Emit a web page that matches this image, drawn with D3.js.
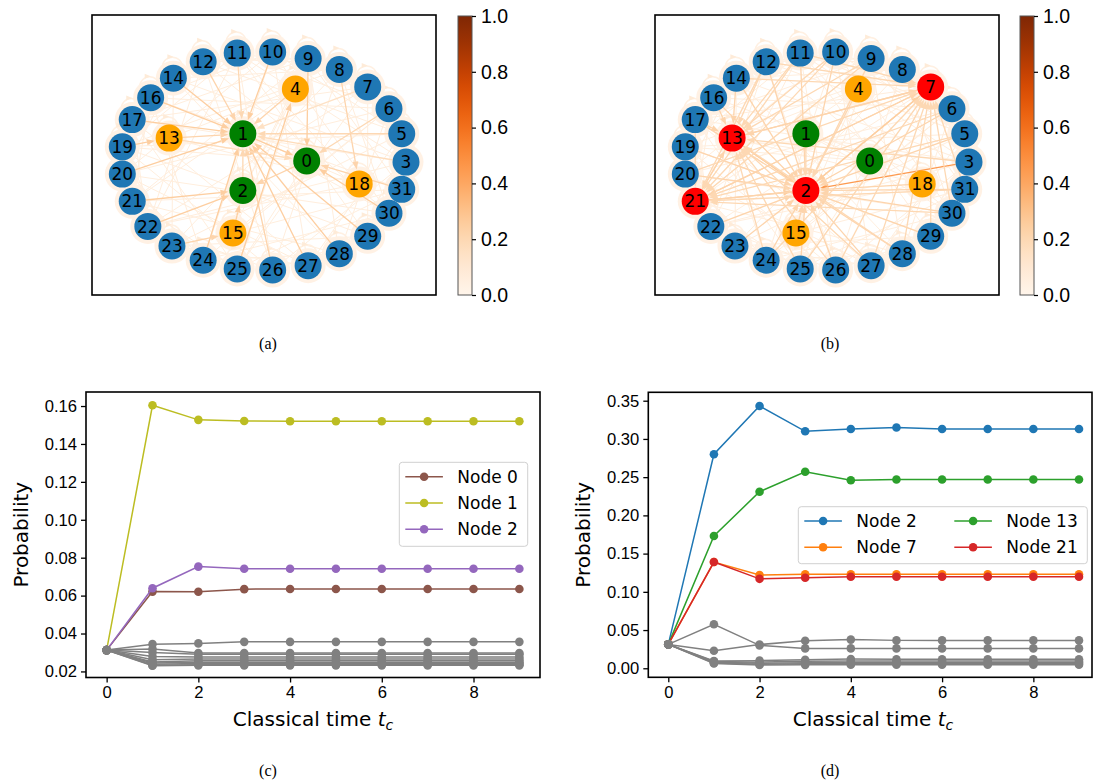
<!DOCTYPE html>
<meta charset="utf-8">
<style>
body { margin: 0; background: #fff; }
svg { font-family: "DejaVu Sans", sans-serif; }
.caption { font-family: "Liberation Serif", "DejaVu Serif", serif; font-size: 16px; }
.tick text { font-size: 16.6px; fill: #000; }
</style>
<svg id="fig" width="1094" height="780"></svg>
<script src="https://d3js.org/d3.v7.min.js"></script>
<script>

// ---- network layout (shared by panels a and b), node id = index
var nodeX = [0.30, -0.15, -0.15, 1.00, 0.22, 0.97, 0.88, 0.73, 0.53, 0.31, 0.06, -0.19, -0.43, -0.67, -0.64, -0.22,
             -0.80, -0.93, 0.67, -1.00, -1.00, -0.93, -0.82, -0.65, -0.43, -0.19, 0.06, 0.31, 0.53, 0.73, 0.88, 0.97];
var nodeY = [0.00, 0.25, -0.27, -0.01, 0.66, 0.25, 0.48, 0.68, 0.84, 0.94, 1.00, 0.99, 0.91, 0.21, 0.76, -0.66,
             0.58, 0.38, -0.21, 0.13, -0.12, -0.37, -0.60, -0.78, -0.91, -0.99, -1.00, -0.96, -0.85, -0.69, -0.48, -0.26];

var greenA = [0, 1, 2], orangeA = [4, 13, 15, 18], redA = [];
var greenB = [0, 1], orangeB = [4, 15, 18], redB = [2, 7, 13, 21];

// faint background edges (pairs)
var faintEdges = "11-8 11-6 11-3 11-29 11-26 11-22 11-19 11-14 10-7 10-5 10-30 10-27 10-24 10-20 10-16 9-6 9-31 9-28 " +
  "9-25 9-21 9-17 9-12 8-5 8-30 8-26 8-23 8-19 8-14 7-3 7-29 7-25 7-22 7-17 6-31 6-28 6-24 6-20 6-16 5-30 5-27 " +
  "5-23 5-19 5-12 3-29 3-26 3-22 3-17 3-14 31-28 31-25 31-21 31-16 30-27 30-24 30-20 30-12 29-26 29-23 29-19 " +
  "28-24 28-21 28-14 27-23 27-20 27-17 26-22 26-19 26-12 25-21 25-17 24-20 24-16 23-19 23-14 22-17 22-12 21-16 " +
  "20-14 4-13 4-15 4-21 18-13 18-22 15-6 0-13 0-19 1-18 2-4 0-25 1-30 2-9 15-31 18-11";

// directed edges with their weights (source>target:weight)
var edgesA = "10>1:.25 11>1:.2 12>1:.22 14>1:.25 16>1:.25 17>1:.25 13>1:.22 20>1:.25 24>1:.25 26>1:.22 27>1:.25 " +
  "28>1:.25 29>1:.25 5>1:.2 4>1:.22 3>1:.18 19>13:.25 23>15:.22 15>2:.25 21>2:.25 22>2:.25 25>4:.25 9>0:.25 " +
  "8>18:.22 6>0:.2 31>0:.22 30>0:.25 1>0:.25 0>2:.22 2>1:.2 13>0:.18 7>1:.15";
var edgesB = "3>2:.45 5>2:.22 6>2:.22 7>2:.25 9>2:.2 10>2:.22 11>2:.22 12>2:.22 14>2:.22 16>2:.22 17>2:.22 " +
  "19>2:.22 20>2:.22 21>2:.25 22>2:.22 23>2:.22 24>2:.22 25>2:.22 26>2:.22 27>2:.22 28>2:.22 29>2:.22 30>2:.22 " +
  "31>2:.22 18>2:.22 15>2:.22 13>2:.25 1>2:.2 4>2:.2 " +
  "2>13:.25 7>13:.22 9>13:.2 10>13:.2 11>13:.2 12>13:.2 14>13:.22 16>13:.22 17>13:.22 21>13:.22 24>13:.2 " +
  "25>13:.2 26>13:.2 27>13:.2 28>13:.2 3>13:.2 " +
  "2>7:.25 13>7:.22 21>7:.22 11>7:.2 12>7:.2 14>7:.2 24>7:.2 25>7:.2 26>7:.2 27>7:.2 28>7:.2 29>7:.2 30>7:.2 " +
  "31>7:.2 20>7:.2 " +
  "2>21:.22 13>21:.22 7>21:.22 5>21:.2 6>21:.2 10>21:.2 11>21:.2 12>21:.2 9>21:.2 30>21:.2 31>21:.2 17>21:.2";

var cbTicks = [0, 0.2, 0.4, 0.6, 0.8, 1.0];

// ---- probability curves
var steps = d3.range(10);
var seriesC = [
  {name: "Node 0", color: "#8c564b", values: [0.03125, 0.0621, 0.0620, 0.0634, 0.0635, 0.0635, 0.0635, 0.0635, 0.0635, 0.0635]},
  {name: "Node 1", color: "#bcbd22", values: [0.03125, 0.1604, 0.1527, 0.1521, 0.1520, 0.1520, 0.1520, 0.1520, 0.1520, 0.1520]},
  {name: "Node 2", color: "#9467bd", values: [0.03125, 0.0639, 0.0753, 0.0742, 0.0742, 0.0742, 0.0742, 0.0742, 0.0742, 0.0742]}
];
var grayC = [
  [0.03125, 0.0344, 0.0348, 0.0356, 0.0356, 0.0356, 0.0356, 0.0356, 0.0356, 0.0356],
  [0.03125, 0.0318, 0.0297, 0.0297, 0.0297, 0.0297, 0.0297, 0.0297, 0.0297, 0.0297],
  [0.03125, 0.0300, 0.0290, 0.0290, 0.0290, 0.0290, 0.0290, 0.0290, 0.0290, 0.0290],
  [0.03125, 0.0279, 0.0276, 0.0276, 0.0276, 0.0276, 0.0276, 0.0276, 0.0276, 0.0276],
  [0.03125, 0.0262, 0.0266, 0.0266, 0.0266, 0.0266, 0.0266, 0.0266, 0.0266, 0.0266],
  [0.03125, 0.0250, 0.0256, 0.0256, 0.0256, 0.0256, 0.0256, 0.0256, 0.0256, 0.0256],
  [0.03125, 0.0244, 0.0249, 0.0249, 0.0249, 0.0249, 0.0249, 0.0249, 0.0249, 0.0249],
  [0.03125, 0.0238, 0.0242, 0.0242, 0.0242, 0.0242, 0.0242, 0.0242, 0.0242, 0.0242],
  [0.03125, 0.0232, 0.0235, 0.0235, 0.0235, 0.0235, 0.0235, 0.0235, 0.0235, 0.0235],
  [0.03125, 0.0230, 0.0232, 0.0232, 0.0232, 0.0232, 0.0232, 0.0232, 0.0232, 0.0232]
];
var seriesD = [
  {name: "Node 2", color: "#1f77b4", values: [0.03125, 0.280, 0.343, 0.310, 0.313, 0.315, 0.313, 0.313, 0.313, 0.313]},
  {name: "Node 7", color: "#ff7f0e", values: [0.03125, 0.139, 0.122, 0.123, 0.123, 0.123, 0.123, 0.123, 0.123, 0.123]},
  {name: "Node 13", color: "#2ca02c", values: [0.03125, 0.173, 0.231, 0.257, 0.246, 0.247, 0.247, 0.247, 0.247, 0.247]},
  {name: "Node 21", color: "#d62728", values: [0.03125, 0.139, 0.117, 0.1185, 0.1198, 0.1198, 0.1198, 0.1198, 0.1198, 0.1198]}
];
var grayD = [
  [0.03125, 0.0575, 0.0300, 0.0260, 0.0260, 0.0260, 0.0260, 0.0260, 0.0260, 0.0260],
  [0.03125, 0.0230, 0.0310, 0.0360, 0.0375, 0.0365, 0.0365, 0.0365, 0.0365, 0.0365],
  [0.03125, 0.0095, 0.0100, 0.0112, 0.0120, 0.0118, 0.0118, 0.0118, 0.0118, 0.0118],
  [0.03125, 0.0090, 0.0080, 0.0092, 0.0095, 0.0095, 0.0095, 0.0095, 0.0095, 0.0095],
  [0.03125, 0.0080, 0.0065, 0.0072, 0.0075, 0.0075, 0.0075, 0.0075, 0.0075, 0.0075],
  [0.03125, 0.0070, 0.0052, 0.0058, 0.0060, 0.0060, 0.0060, 0.0060, 0.0060, 0.0060],
  [0.03125, 0.0062, 0.0042, 0.0045, 0.0046, 0.0046, 0.0046, 0.0046, 0.0046, 0.0046]
];
var xTicks = [0, 2, 4, 6, 8];
var yTicksC = [0.02, 0.04, 0.06, 0.08, 0.10, 0.12, 0.14, 0.16];
var yTicksD = [0.00, 0.05, 0.10, 0.15, 0.20, 0.25, 0.30, 0.35];

var svg = d3.select("#fig");

// ------------------------------------------------------------ networks
var nodeR = 13.5;
var nx = d3.scaleLinear().domain([-1, 1]).range([30.3, 314]);
var ny = d3.scaleLinear().domain([-1, 1]).range([255, 37]);

function parseDirected(str) {
  return str.trim().split(/\s+/).map(function(e) {
    var a = e.split(":"), p = a[0].split(">");
    return {s: +p[0], t: +p[1], w: +a[1]};
  });
}
function parseFaint(str) {
  return str.trim().split(/\s+/).map(function(e) {
    var p = e.split("-");
    return {s: +p[0], t: +p[1], w: 0.06};
  });
}

function drawNetwork(left, top, edgeStr, green, orange, red) {
  var g = svg.append("g").attr("transform", "translate(" + left + "," + top + ")");
  g.append("rect").attr("width", 344).attr("height", 280).attr("fill", "#fff");

  // faint haze
  g.selectAll(".faint").data(parseFaint(faintEdges)).enter().append("line")
      .attr("x1", function(d) { return nx(nodeX[d.s]); })
      .attr("y1", function(d) { return ny(nodeY[d.s]); })
      .attr("x2", function(d) { return nx(nodeX[d.t]); })
      .attr("y2", function(d) { return ny(nodeY[d.t]); })
      .attr("stroke", function(d) { return d3.interpolateOranges(d.w); })
      .attr("stroke-width", 1);

  // halos + self loops
  var ids = d3.range(nodeX.length);
  ids.forEach(function(i) {
    var cx = nx(nodeX[i]), cy = ny(nodeY[i]);
    g.append("circle").attr("cx", cx - 1).attr("cy", cy - 11).attr("r", 10)
        .attr("fill", "none").attr("stroke", d3.interpolateOranges(0.04)).attr("stroke-width", 1.5);
    g.append("path")
        .attr("d", "M" + (cx - 6) + "," + (cy - 24) + "l6,2.5l-6,2.5z")
        .attr("fill", d3.interpolateOranges(0.08));
    g.append("circle").attr("cx", cx).attr("cy", cy).attr("r", nodeR + 4)
        .attr("fill", d3.interpolateOranges(0.03));
  });

  // weighted directed edges
  var edges = parseDirected(edgeStr);
  edges.forEach(function(e) {
    var x1 = nx(nodeX[e.s]), y1 = ny(nodeY[e.s]), x2 = nx(nodeX[e.t]), y2 = ny(nodeY[e.t]);
    var dx = x2 - x1, dy = y2 - y1, L = Math.sqrt(dx * dx + dy * dy), ux = dx / L, uy = dy / L;
    var sx = x1 + ux * nodeR, sy = y1 + uy * nodeR;
    var ex = x2 - ux * (nodeR + 1), ey = y2 - uy * (nodeR + 1);
    var hl = 8, hw = 3;
    var bx = ex - ux * hl, by = ey - uy * hl;
    var col = d3.interpolateOranges(e.w);
    g.append("line").attr("x1", sx).attr("y1", sy).attr("x2", bx).attr("y2", by)
        .attr("stroke", col).attr("stroke-width", 1.3);
    g.append("path")
        .attr("d", "M" + ex + "," + ey + "L" + (bx - uy * hw) + "," + (by + ux * hw) +
                   "L" + (bx + uy * hw) + "," + (by - ux * hw) + "Z")
        .attr("fill", col);
  });

  function nodeColor(i) {
    if (green.indexOf(i) >= 0) return "#008000";
    if (red.indexOf(i) >= 0) return "#ff0000";
    if (orange.indexOf(i) >= 0) return "#ffa500";
    return "#1f77b4";
  }
  g.selectAll(".node").data(ids).enter().append("circle")
      .attr("cx", function(i) { return nx(nodeX[i]); })
      .attr("cy", function(i) { return ny(nodeY[i]); })
      .attr("r", nodeR)
      .attr("fill", nodeColor);
  g.selectAll(".lab").data(ids).enter().append("text")
      .attr("x", function(i) { return nx(nodeX[i]); })
      .attr("y", function(i) { return ny(nodeY[i]); })
      .attr("dy", "0.36em")
      .attr("text-anchor", "middle")
      .style("font-size", "17px")
      .text(function(i) { return i; });

  g.append("rect").attr("width", 344).attr("height", 280)
      .attr("fill", "none").attr("stroke", "#000").attr("stroke-width", 1.6);
}

var gradId = 0;
function drawColorbar(left, top) {
  var h = 279, w = 14;
  var id = "cbgrad" + (gradId++);
  var grad = svg.append("defs").append("linearGradient").attr("id", id)
      .attr("x1", 0).attr("y1", 1).attr("x2", 0).attr("y2", 0);
  d3.range(0, 1.0001, 0.05).forEach(function(t) {
    grad.append("stop").attr("offset", t).attr("stop-color", d3.interpolateOranges(t));
  });
  var g = svg.append("g").attr("transform", "translate(" + left + "," + top + ")");
  g.append("rect").attr("width", w).attr("height", h).attr("fill", "url(#" + id + ")")
      .attr("stroke", "#555").attr("stroke-width", 1);
  var s = d3.scaleLinear().domain([0, 1]).range([h, 0]);
  var ax = g.append("g").attr("transform", "translate(" + w + ",0)")
      .call(d3.axisRight(s).tickValues(cbTicks).tickFormat(d3.format(".1f")).tickSize(4).tickPadding(5));
  ax.select(".domain").remove();
  ax.selectAll(".tick line").attr("stroke-width", 1.2);
  ax.selectAll(".tick text").style("font-size", "19.5px");
}

drawNetwork(92, 15, edgesA, greenA, orangeA, redA);
drawColorbar(458, 16);
drawNetwork(655, 15, edgesB, greenB, orangeB, redB);
drawColorbar(1020, 16);

// ------------------------------------------------------------ line charts
function drawLines(o) {
  var x = d3.scaleLinear().domain(o.xDomain).range([o.left, o.right]);
  var y = d3.scaleLinear().domain(o.yDomain).range([o.bottom, o.top]);
  var g = svg.append("g");
  var line = d3.line().x(function(d, i) { return x(steps[i]); }).y(function(d) { return y(d); });

  function series(vals, color) {
    g.append("path").attr("d", line(vals)).attr("fill", "none")
        .attr("stroke", color).attr("stroke-width", 1.5);
    g.selectAll(null).data(vals).enter().append("circle")
        .attr("cx", function(d, i) { return x(steps[i]); })
        .attr("cy", function(d) { return y(d); })
        .attr("r", 4.3).attr("fill", color);
  }
  o.series.forEach(function(s) { series(s.values, s.color); });
  o.gray.forEach(function(v) { series(v, "#808080"); });

  var ax = g.append("g").attr("transform", "translate(0," + o.bottom + ")")
      .call(d3.axisBottom(x).tickValues(xTicks).tickSize(5).tickPadding(4));
  var ay = g.append("g").attr("transform", "translate(" + o.left + ",0)")
      .call(d3.axisLeft(y).tickValues(o.yTicks).tickFormat(d3.format(".2f")).tickSize(5).tickPadding(4));
  [ax, ay].forEach(function(a) {
    a.select(".domain").remove();
    a.selectAll(".tick line").attr("stroke-width", 1.3);
  });
  g.append("rect").attr("x", o.left).attr("y", o.top)
      .attr("width", o.right - o.left).attr("height", o.bottom - o.top)
      .attr("fill", "none").attr("stroke", "#000").attr("stroke-width", 1.6);

  g.append("text").attr("transform", "translate(" + o.ylabX + "," + ((o.top + o.bottom) / 2) + ") rotate(-90)")
      .attr("text-anchor", "middle").attr("dy", "0.35em").style("font-size", "20px").text("Probability");
  var xl = g.append("text").attr("x", o.xlabX).attr("y", 726).attr("text-anchor", "middle").style("font-size", "20px");
  xl.append("tspan").text("Classical time ");
  xl.append("tspan").style("font-style", "italic").text("t");
  xl.append("tspan").attr("dy", 4).style("font-size", "14px").style("font-style", "italic").text("c");

  // legend
  var lg = g.append("g").attr("transform", "translate(" + o.legend.x + "," + o.legend.y + ")");
  lg.append("rect").attr("width", o.legend.w).attr("height", o.legend.h).attr("rx", 3)
      .attr("fill", "#fff").attr("fill-opacity", 0.8).attr("stroke", "#d0d0d0");
  o.series.forEach(function(s, i) {
    var col = Math.floor(i / o.legend.rows), row = i % o.legend.rows;
    var hx = 6 + col * o.legend.colW, hy = o.legend.row0 + row * 26.3;
    lg.append("line").attr("x1", hx).attr("x2", hx + 37.6).attr("y1", hy).attr("y2", hy)
        .attr("stroke", s.color).attr("stroke-width", 1.5);
    lg.append("circle").attr("cx", hx + 18.8).attr("cy", hy).attr("r", 4.3).attr("fill", s.color);
    lg.append("text").attr("x", hx + 52).attr("y", hy).attr("dy", "0.36em")
        .style("font-size", "17px").text(s.name);
  });
}

drawLines({
  left: 86, right: 540, top: 392, bottom: 677.5,
  xDomain: [-0.45, 9.45], yDomain: [0.0168, 0.1674], yTicks: yTicksC,
  series: seriesC, gray: grayC, ylabX: 21, xlabX: 313,
  legend: {x: 399.3, y: 462.3, w: 128.4, h: 84, rows: 3, colW: 0, row0: 14.4}
});
drawLines({
  left: 648.3, right: 1092, top: 392.3, bottom: 677.3,
  xDomain: [-0.438, 9.285], yDomain: [-0.0118, 0.361], yTicks: yTicksD,
  series: seriesD, gray: grayD, ylabX: 583, xlabX: 873,
  legend: {x: 798.3, y: 506.7, w: 289, h: 57, rows: 2, colW: 150, row0: 14.3}
});

// ------------------------------------------------------------ captions
[["(a)", 268, 343], ["(b)", 830, 343], ["(c)", 268, 770], ["(d)", 830, 770]].forEach(function(c) {
  svg.append("text").attr("class", "caption").attr("x", c[1]).attr("y", c[2]).attr("dy", "0.35em")
      .attr("text-anchor", "middle").text(c[0]);
});

</script>
